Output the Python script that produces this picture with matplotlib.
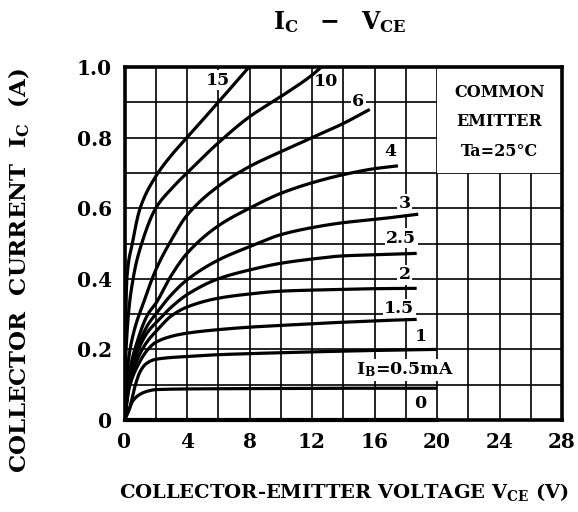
import matplotlib
matplotlib.use('Agg')
import numpy as np
import matplotlib.pyplot as plt
from matplotlib.patches import Rectangle

plt.rcParams['font.family'] = ['DejaVu Serif']
plt.rcParams['font.weight'] = 'bold'
plt.rcParams['mathtext.fontset'] = 'custom'
plt.rcParams['mathtext.rm'] = 'DejaVu Serif:bold'
plt.rcParams['mathtext.it'] = 'DejaVu Serif:bold'
plt.rcParams['mathtext.bf'] = 'DejaVu Serif:bold'

# ---- data ----
v_15 = [0, 0.05, 0.15, 0.5, 1.0, 2.0, 3.0, 4.0, 6.0, 7.97]
i_15 = [0, 0.2, 0.4, 0.5, 0.6, 0.69, 0.75, 0.8, 0.9, 1.0]

v_10 = [0, 0.1, 0.55, 1.1, 2.0, 3.0, 4.0, 6.0, 8.0, 10.0, 12.0, 12.6]
i_10 = [0, 0.2, 0.4, 0.5, 0.6, 0.655, 0.7, 0.785, 0.859, 0.916, 0.977, 1.0]

v_6 = [0, 0.2, 0.6, 1.2, 2, 3, 4, 6, 8, 10, 12, 14, 15.7]
i_6 = [0, 0.15, 0.25, 0.33, 0.425, 0.51, 0.58, 0.662, 0.718, 0.76, 0.80, 0.84, 0.88]

v_4 = [0, 0.3, 0.8, 1.5, 2, 3, 4, 6, 8, 10, 12, 14, 16, 17.5]
i_4 = [0, 0.13, 0.22, 0.3, 0.33, 0.41, 0.472, 0.55, 0.60, 0.642, 0.672, 0.695, 0.712, 0.72]

v_3 = [0, 0.3, 0.8, 1.5, 2, 3, 4, 6, 8, 10, 12, 14, 16, 18.8]
i_3 = [0, 0.12, 0.2, 0.27, 0.3, 0.355, 0.397, 0.453, 0.491, 0.525, 0.545, 0.559, 0.568, 0.583]

v_25 = [0, 0.3, 0.8, 1.5, 2, 3, 4, 6, 8, 10, 12, 14, 16, 18.7]
i_25 = [0, 0.11, 0.19, 0.25, 0.275, 0.32, 0.355, 0.40, 0.425, 0.444, 0.456, 0.465, 0.468, 0.472]

v_2 = [0, 0.3, 0.8, 1.5, 2, 3, 4, 6, 8, 10, 12, 14, 16, 18.7]
i_2 = [0, 0.1, 0.17, 0.225, 0.25, 0.295, 0.32, 0.345, 0.357, 0.365, 0.368, 0.37, 0.372, 0.373]

v_15b = [0, 0.3, 0.8, 1.5, 2, 3, 4, 6, 8, 10, 12, 14, 16, 18.7]
i_15b = [0, 0.09, 0.15, 0.2, 0.22, 0.237, 0.246, 0.256, 0.263, 0.268, 0.273, 0.277, 0.281, 0.285]

v_1 = [0, 0.3, 0.7, 1.0, 1.4, 2, 4, 6, 8, 12, 16, 20]
i_1 = [0, 0.03, 0.1, 0.137, 0.16, 0.172, 0.18, 0.185, 0.188, 0.193, 0.197, 0.2]

v_05 = [0, 0.3, 0.5, 1, 1.5, 2, 4, 8, 12, 16, 20]
i_05 = [0, 0.03, 0.052, 0.073, 0.082, 0.086, 0.088, 0.089, 0.09, 0.09, 0.09]

v_0 = [0, 20]
i_0 = [0, 0]

curve_labels = ['15', '10', '6', '4', '3', '2.5', '2', '1.5', '1', r'$\mathrm{I_B}$=0.5mA', '0']
label_v = [5.98, 12.93, 14.95, 17.04, 17.93, 17.72, 17.93, 17.6, 18.96, 17.93, 18.9]
label_i = [0.963, 0.958, 0.902, 0.76, 0.612, 0.515, 0.411, 0.316, 0.236, 0.142, 0.048]

x_ticks = [0, 4, 8, 12, 16, 20, 24, 28]
y_ticks = [0, 0.2, 0.4, 0.6, 0.8, 1.0]
y_tick_labels = ['0', '0.2', '0.4', '0.6', '0.8', '1.0']

box_text = 'COMMON\nEMITTER\nTa=25°C'

curves = [(v_15, i_15), (v_10, i_10), (v_6, i_6), (v_4, i_4), (v_3, i_3),
          (v_25, i_25), (v_2, i_2), (v_15b, i_15b), (v_1, i_1), (v_05, i_05)]


def smooth_path(x, y, n=60):
    """Monotone cubic (Fritsch-Carlson) path through the read points, for drawing only."""
    x = np.asarray(x, float)
    y = np.asarray(y, float)
    h = np.diff(x)
    d = np.diff(y) / h
    m = np.zeros_like(x)
    m[0], m[-1] = d[0], d[-1]
    for k in range(1, len(x) - 1):
        if d[k - 1] * d[k] <= 0:
            m[k] = 0
        else:
            w1 = 2 * h[k] + h[k - 1]
            w2 = h[k] + 2 * h[k - 1]
            m[k] = (w1 + w2) / (w1 / d[k - 1] + w2 / d[k])
    xs, ys = [], []
    for k in range(len(x) - 1):
        t = np.linspace(0, 1, n, endpoint=(k == len(x) - 2))
        h00 = 2 * t**3 - 3 * t**2 + 1
        h10 = t**3 - 2 * t**2 + t
        h01 = -2 * t**3 + 3 * t**2
        h11 = t**3 - t**2
        xs.append(x[k] + t * h[k])
        ys.append(h00 * y[k] + h10 * h[k] * m[k] + h01 * y[k + 1] + h11 * h[k] * m[k + 1])
    return np.concatenate(xs), np.concatenate(ys)


# ---- figure ----
fig = plt.figure(figsize=(5.78, 5.12), dpi=100)
ax = fig.add_axes([124.5 / 578, 92 / 512, (562 - 124.5) / 578, (420 - 67) / 512])
ax.set_xlim(0, 28)
ax.set_ylim(0, 1.0)

ax.set_xticks(x_ticks)
ax.set_xticks(range(0, 29, 2), minor=True)
ax.set_yticks(y_ticks)
ax.set_yticklabels(y_tick_labels)
ax.set_yticks([k / 10 for k in range(11)], minor=True)
ax.grid(True, which='both', color='black', linewidth=1.2, zorder=1)
ax.tick_params(which='both', length=0, labelsize=14.5, pad=9)
for sp in ax.spines.values():
    sp.set_linewidth(2.6)
    sp.set_zorder(5)

# white box for the condition text
ax.add_patch(Rectangle((20, 0.7), 8, 0.3, facecolor='white', edgecolor='none', zorder=2))
ax.text(24, 0.845, box_text, ha='center', va='center', fontsize=11.5,
        linespacing=1.95, zorder=3)

for v, i in curves:
    sx, sy = smooth_path(v, i)
    ax.plot(sx, sy, color='black', linewidth=2.3, zorder=4, solid_capstyle='butt')
ax.plot(v_0, i_0, color='black', linewidth=3.0, zorder=4, clip_on=False)

for lab, lv, li in zip(curve_labels, label_v, label_i):
    ax.text(lv, li, lab, ha='center', va='center', fontsize=12.5, zorder=3,
            bbox=dict(facecolor='white', edgecolor='none', pad=1.0))

fig.text(344 / 578, 1 - 492 / 512, r'COLLECTOR-EMITTER VOLTAGE $\mathrm{V_{CE}}$ (V)',
         ha='center', va='center', fontsize=14, fontweight='bold')
fig.text(19 / 578, 1 - 271 / 512, r'COLLECTOR  CURRENT  $\mathrm{I_C}$  (A)',
         ha='center', va='center', rotation=90, fontsize=16.5, fontweight='bold')
fig.text(340 / 578, 1 - 22 / 512, r'$\mathrm{I_C\ \ -\ \ V_{CE}}$', ha='center',
         va='center', fontsize=17)

fig.savefig('out.png', dpi=100)
